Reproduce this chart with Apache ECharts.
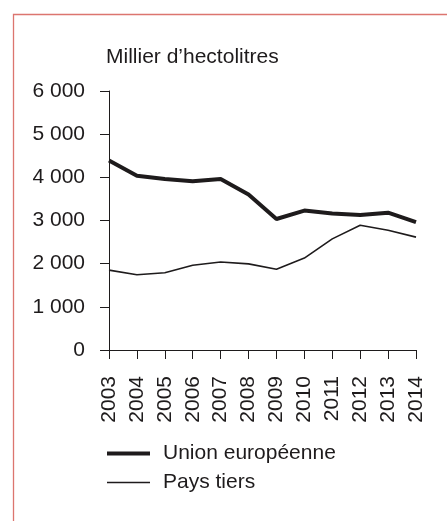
<!DOCTYPE html>
<html>
<head>
<meta charset="utf-8">
<script src="https://cdn.jsdelivr.net/npm/echarts@6/dist/echarts.min.js"></script>
<style>
html,body{margin:0;padding:0;background:#fff;}
#c{width:447px;height:521px;}
</style>
</head>
<body>
<div id="c"></div>
<script>
const years = ['2003','2004','2005','2006','2007','2008','2009','2010','2011','2012','2013','2014'];
const unionEuropeenne = [4390, 4035, 3960, 3910, 3960, 3600, 3035, 3230, 3160, 3125, 3180, 2960];
const paysTiers = [1850, 1745, 1790, 1965, 2040, 1995, 1870, 2130, 2575, 2890, 2775, 2615];
const yTicks = [0, 1000, 2000, 3000, 4000, 5000, 6000];
const unitLabel = 'Millier d\u2019hectolitres';
const seriesNames = ['Union européenne', 'Pays tiers'];

const font = 'Liberation Sans, Arial, sans-serif';
const ink = '#1e1b1c';
const chart = echarts.init(document.getElementById('c'));
chart.setOption({
  animation: false,
  backgroundColor: '#fff',
  title: {
    text: unitLabel,
    left: 106, top: 47, padding: 0,
    textStyle: {fontFamily: font, fontSize: 21, fontWeight: 'normal', color: ink}
  },
  graphic: [{
    type: 'rect', left: 11, top: 12, silent: true,
    shape: {width: 500, height: 600},
    style: {fill: 'none', stroke: '#dc756f', lineWidth: 1.3}
  }],
  grid: {left: 109, right: 31, top: 91, bottom: 171, containLabel: false},
  legend: {
    orient: 'vertical', left: 107, top: 443, padding: 0,
    itemWidth: 43, itemHeight: 14, itemGap: 8, symbolKeepAspect: true,
    textStyle: {fontFamily: font, fontSize: 21, color: ink, padding: [0,0,0,8]},
    data: [
      {name: seriesNames[0], icon: 'path://M0,0 H43 V4 H0 Z', itemStyle: {color: ink}},
      {name: seriesNames[1], icon: 'path://M0,0 H43 V1.6 H0 Z', itemStyle: {color: ink}}
    ]
  },
  xAxis: {
    type: 'category', data: years, boundaryGap: false,
    axisLine: {lineStyle: {color: ink, width: 1}},
    axisTick: {show: true, length: 9, alignWithLabel: true, lineStyle: {color: ink}},
    axisLabel: {rotate: 90, margin: 26, fontFamily: font, fontSize: 21, color: ink, interval: 0}
  },
  yAxis: {
    type: 'value', min: 0, max: 6000, interval: 1000,
    splitLine: {show: false},
    axisLine: {show: true, lineStyle: {color: ink, width: 1}},
    axisTick: {show: true, length: 9, lineStyle: {color: ink}},
    axisLabel: {
      margin: 24, fontFamily: font, fontSize: 21, color: ink,
      formatter: v => yTicks.includes(v) ? (v >= 1000 ? Math.floor(v/1000) + ' ' + String(v%1000).padStart(3,'0') : String(v)) : ''
    }
  },
  series: [
    {name: seriesNames[0], type: 'line', data: unionEuropeenne, symbol: 'none',
     lineStyle: {color: ink, width: 4}, itemStyle: {color: ink}},
    {name: seriesNames[1], type: 'line', data: paysTiers, symbol: 'none',
     lineStyle: {color: ink, width: 1.6}, itemStyle: {color: ink}}
  ]
});
</script>
</body>
</html>
